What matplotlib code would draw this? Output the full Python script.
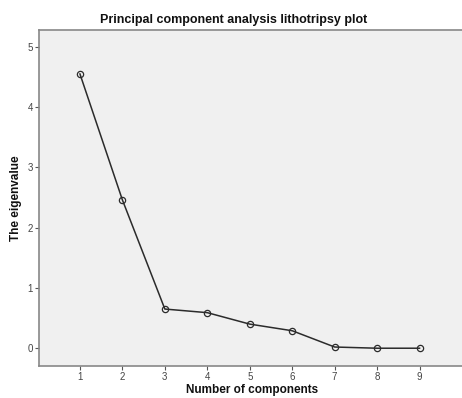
import matplotlib
matplotlib.use("Agg")
import matplotlib.pyplot as plt

components = [1, 2, 3, 4, 5, 6, 7, 8, 9]
eigenvalues = [4.55, 2.46, 0.65, 0.59, 0.40, 0.29, 0.02, 0.0, 0.0]
yticks = [0, 1, 2, 3, 4, 5]

plt.rcParams['font.family'] = ['Liberation Sans', 'DejaVu Sans']

fig = plt.figure(figsize=(4.62, 3.98), dpi=100)
fig.patch.set_facecolor('white')
ax = fig.add_axes([39/462, 1-365.7/398, 1-39/462, (365.7-30)/398])
ax.set_facecolor('#F0F0F0')

ax.plot(components, eigenvalues, color='#2b2b2b', lw=1.1,
        marker='o', markersize=4.5, markerfacecolor='none',
        markeredgecolor='#2b2b2b', markeredgewidth=0.9)

ax.set_xlim(0.035, 10.0)
ax.set_ylim(-0.29, 5.28)
ax.set_xticks(components)
ax.set_yticks(yticks)
ax.tick_params(axis='both', labelsize=7, colors='#555555', length=3,
               width=0.8, labelcolor='#444444', pad=1.5)
for s in ['left', 'top', 'bottom']:
    ax.spines[s].set_color('#888888')
    ax.spines[s].set_linewidth(1.2)
ax.spines['right'].set_visible(False)

fig.text(234/462, 1-20/398, 'Principal component analysis lithotripsy plot',
         ha='center', va='center', fontsize=9, fontweight='bold', color='#111111')
fig.text(252/462, 1.5/398, 'Number of components', ha='center', va='bottom',
         fontsize=8.5, fontweight='bold', color='#111111')
fig.text(16/462, 1-198/398, 'The eigenvalue', ha='center', va='center',
         rotation=90, fontsize=8.5, fontweight='bold', color='#111111')

fig.savefig('out.png', dpi=100)
